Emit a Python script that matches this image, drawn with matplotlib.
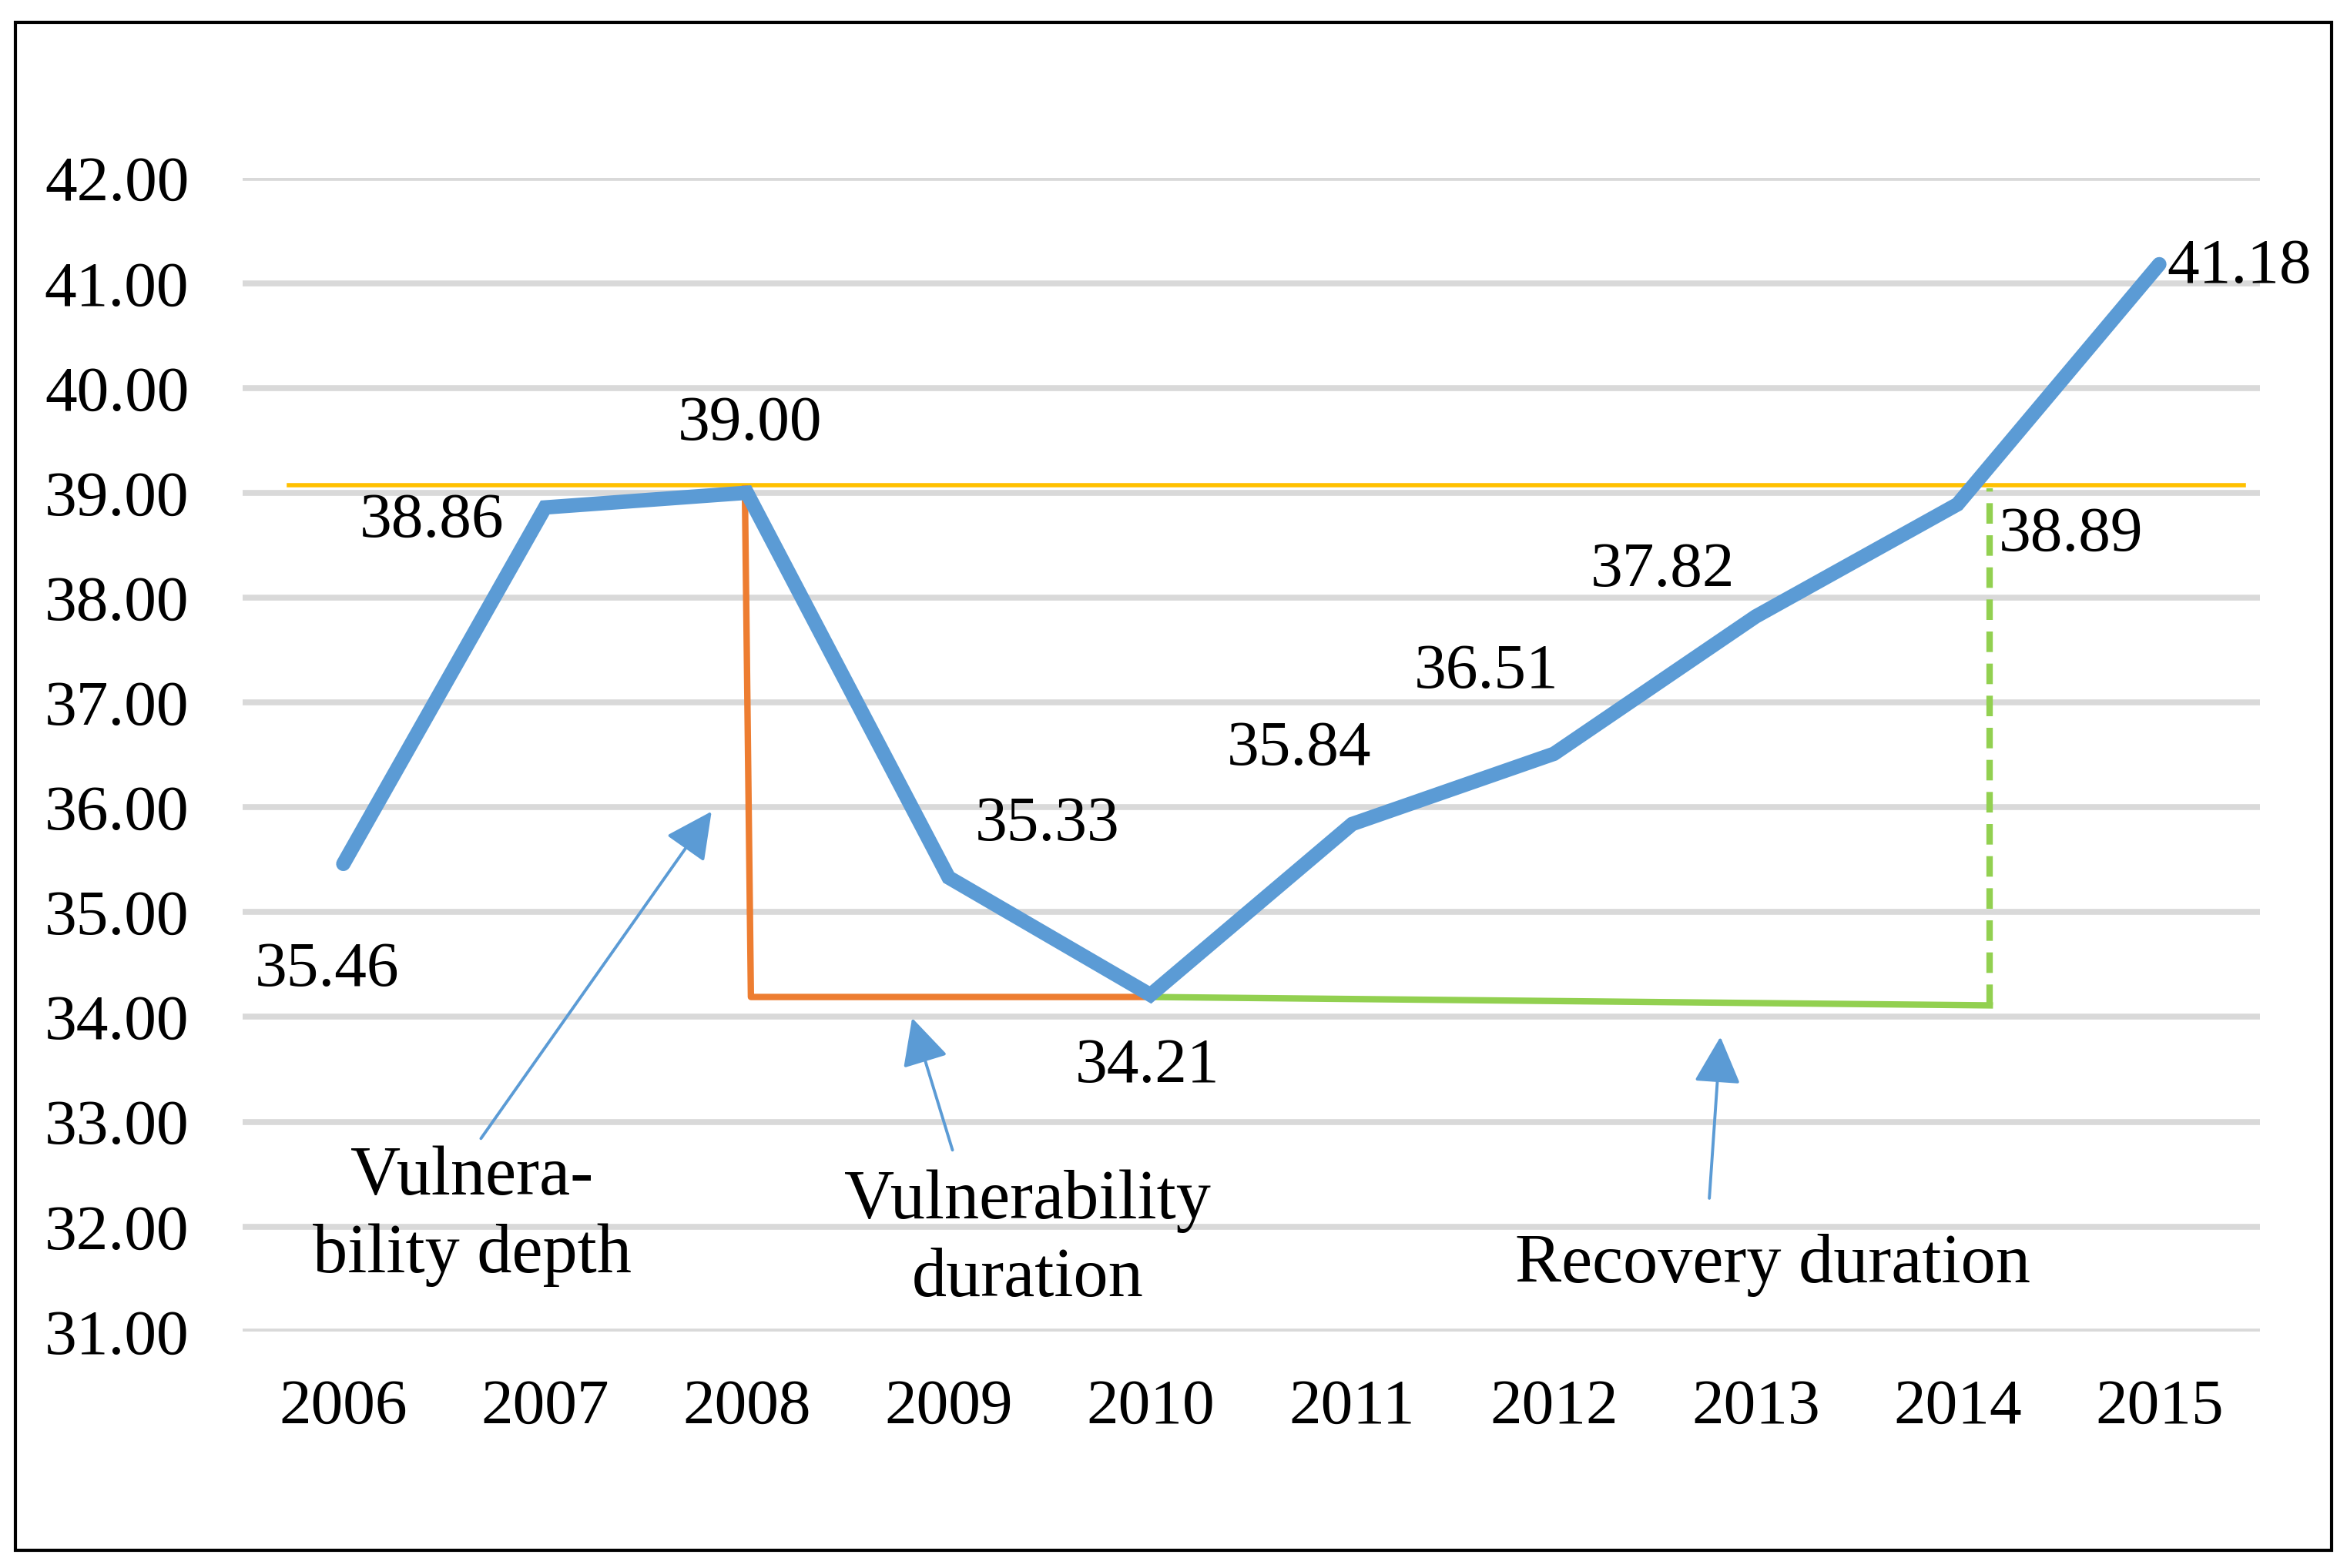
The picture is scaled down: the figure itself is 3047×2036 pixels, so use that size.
import matplotlib
matplotlib.use("Agg")
import matplotlib.pyplot as plt
from matplotlib.patches import Rectangle

plt.rcParams['font.family'] = ['Liberation Serif', 'DejaVu Serif']

years = ["2006", "2007", "2008", "2009", "2010", "2011", "2012", "2013", "2014", "2015"]
values = [35.46, 38.86, 39.00, 35.33, 34.21, 35.84, 36.51, 37.82, 38.89, 41.18]
value_labels = ["35.46", "38.86", "39.00", "35.33", "34.21", "35.84", "36.51", "37.82", "38.89", "41.18"]
yticks = [31, 32, 33, 34, 35, 36, 37, 38, 39, 40, 41, 42]

# annotation shapes (x in category index, y in data units)
threshold_x = [-0.27, 9.42]
threshold_y = [39.07, 39.07]
vuln_x = [1.99, 2.02, 4.0]
vuln_y = [39.04, 34.19, 34.19]
recov_x = [4.0, 8.16]
recov_y = [34.19, 34.11]
recov_dash_x = [8.16, 8.16]
recov_dash_y = [34.11, 39.04]

# label offsets in points
label_offsets = [(-15, -100), (-106, -13), (3, 64), (92, 49), (-3, -67),
                 (-50, 70), (-63, 76), (-87, 43), (106, -29), (75, -3)]

fig = plt.figure(figsize=(30.47, 20.36), dpi=100)
ax = fig.add_axes([0.1033, 0.1509, 0.963 - 0.1033, 0.8863 - 0.1509])

x = list(range(len(years)))
ax.set_xlim(-0.5, len(years) - 0.5)
ax.set_ylim(31, 42)
ax.set_yticks(yticks)
ax.set_yticklabels([f"{t:.2f}" for t in yticks])
ax.set_xticks(x)
ax.set_xticklabels(years)
ax.tick_params(axis='y', length=0, pad=50, labelsize=60)
ax.tick_params(axis='x', length=0, pad=44, labelsize=60)
for s in ax.spines.values():
    s.set_visible(False)
ax.grid(axis='y', color='#D9D9D9', linewidth=5.5)
ax.set_axisbelow(True)

ax.plot(threshold_x, threshold_y, color='#FFC000', linewidth=4, zorder=3, clip_on=False)
ax.plot(vuln_x, vuln_y, color='#ED7D31', linewidth=6, zorder=3)
ax.plot(recov_x, recov_y, color='#92D050', linewidth=6, zorder=3)
ax.plot(recov_dash_x, recov_dash_y, color='#92D050', linewidth=6, linestyle=(0, (3.2, 1.8)), zorder=3)

ax.plot(x, values, color='#5B9BD5', linewidth=13.5, solid_capstyle='round',
        solid_joinstyle='miter', zorder=4)

for xi, v, lab, off in zip(x, values, value_labels, label_offsets):
    ax.annotate(lab, (xi, v), xytext=off, textcoords='offset points',
                ha='center', va='center', fontsize=60, zorder=5)

arrow_props = dict(arrowstyle='-|>,head_length=0.9,head_width=0.45', color='#5B9BD5',
                   linewidth=2.8, mutation_scale=42, shrinkA=0, shrinkB=0)
ax.annotate("", xy=(1.825, 35.96), xytext=(0.682, 32.84), arrowprops=arrow_props, zorder=5)
ax.annotate("", xy=(2.819, 33.99), xytext=(3.019, 32.73), arrowprops=arrow_props, zorder=5)
ax.annotate("", xy=(6.825, 33.81), xytext=(6.77, 32.27), arrowprops=arrow_props, zorder=5)

ax.text(0.638, 32.1, "Vulnera-\nbility depth", ha='center', va='center', fontsize=65,
        linespacing=1.3, zorder=5)
ax.text(3.39, 31.87, "Vulnerability\nduration", ha='center', va='center', fontsize=65,
        linespacing=1.3, zorder=5)
ax.text(7.085, 31.63, "Recovery duration", ha='center', va='center', fontsize=65, zorder=5)

fig.patches.append(Rectangle((0.0064, 0.0115), 0.9936 - 0.0064, 0.9857 - 0.0115,
                             transform=fig.transFigure, fill=False, edgecolor='black',
                             linewidth=3, zorder=10))

fig.savefig("out.png", dpi=100)
